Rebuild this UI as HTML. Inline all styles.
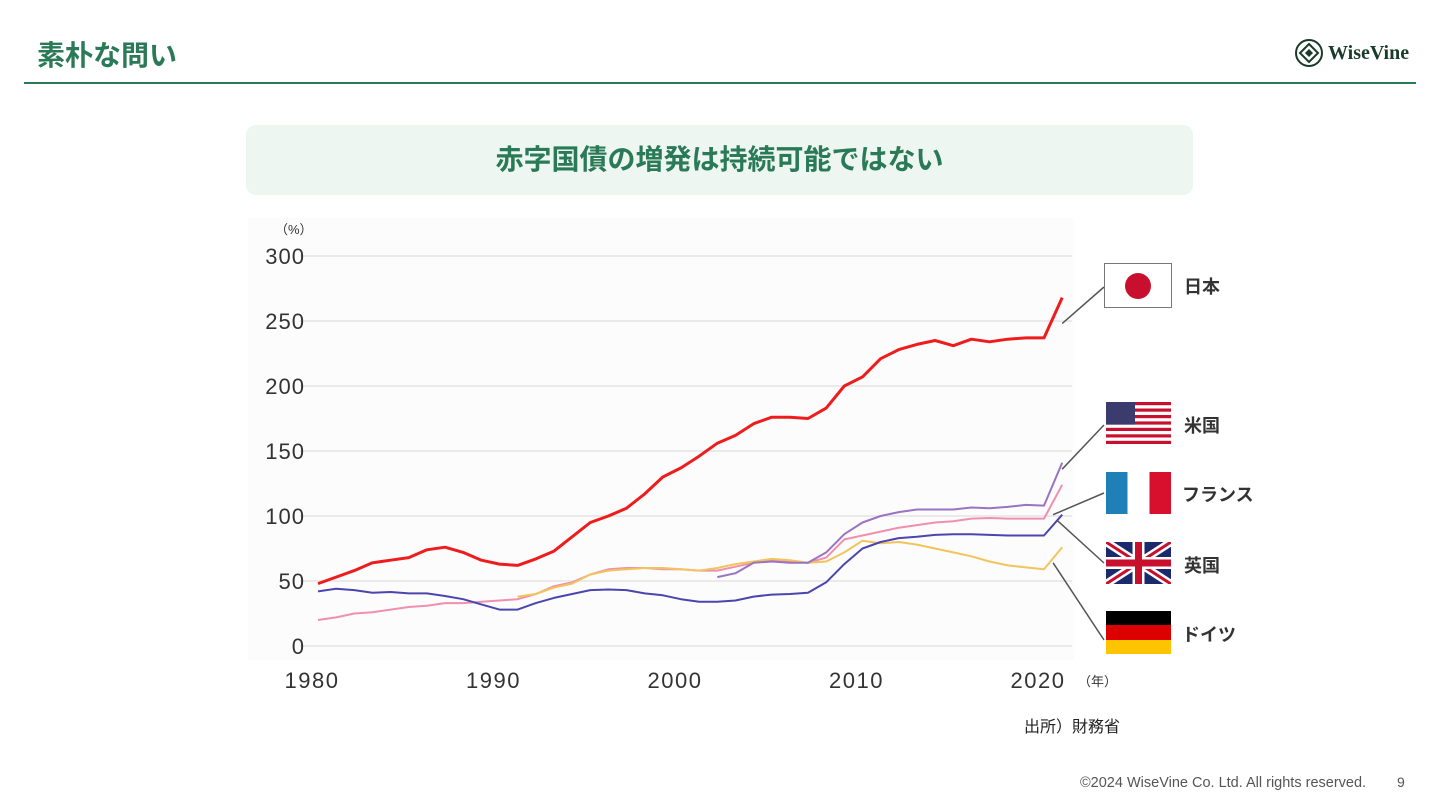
<!DOCTYPE html>
<html><head><meta charset="utf-8">
<style>
body{margin:0;width:1440px;height:810px;background:#fff;font-family:"Liberation Sans","Noto Sans CJK JP",sans-serif;position:relative;overflow:hidden}
.abs{position:absolute}
</style></head><body>
<div class="abs" style="left:37px;top:34px;font-size:28px;font-weight:bold;color:#2b7a57">素朴な問い</div>
<div class="abs" style="left:24px;top:82px;width:1392px;height:2px;background:#2b7a57"></div>
<div class="abs" style="left:1294px;top:38px;display:flex;align-items:center;gap:4px">
 <svg width="30" height="30" viewBox="0 0 30 30"><circle cx="15" cy="15" r="13" fill="none" stroke="#1a3a2c" stroke-width="2"/><path d="M15 6 L24 15 L15 24 L6 15Z" fill="none" stroke="#1a3a2c" stroke-width="2"/><path d="M15 11 L19 15 L15 19 L11 15Z" fill="#1a3a2c"/></svg>
 <span style="font-family:'Liberation Serif',serif;font-weight:bold;font-size:20px;color:#1a3a2c">WiseVine</span>
</div>
<div class="abs" style="left:246px;top:125px;width:947px;height:70px;background:#eef6f1;border-radius:10px;text-align:center;line-height:70px;font-size:28px;font-weight:bold;color:#2b7a57">赤字国債の増発は持続可能ではない</div>
<div class="abs" style="left:248px;top:218px;width:826px;height:442px;background:#fcfcfc"></div>
<svg id="chart" class="abs" style="left:0;top:0" width="1440" height="810"></svg>
<div class="abs" style="left:1024px;top:713px;font-size:16px;color:#222">出所）財務省</div>
<div class="abs" style="left:1080px;top:775px;font-size:14.5px;color:#555">©2024 WiseVine Co. Ltd. All rights reserved.</div>
<div class="abs" style="left:1397px;top:774px;font-size:14px;color:#555">9</div>
<script>
const years=[];for(let y=1980;y<=2021;y++)years.push(y);
const yTicks=[0,50,100,150,200,250,300];
const xTicks=[1980,1990,2000,2010,2020];
const japan=[48,53,58,64,66,68,74,76,72,66,63,62,67,73,84,95,100,106,117,130,137,146,156,162,171,176,176,175,183,200,207,221,228,232,235,231,236,234,236,237,237,268];
const uk=[42,44,43,41,41.5,40.5,40.5,38.5,36,32,28,28,33,37,40,43,43.5,43,40.5,39,36,34,34,35,38,39.5,40,41,49,63,75,80,83,84,85.5,86,86,85.5,85,85,85,101];
const france=[20,22,25,26,28,30,31,33,33,34,35,36,40,46,49,55,59,60,60,59,59,58,58,61,64,66,65,64,68,82,85,88,91,93,95,96,98,98.5,98,98,98,124];
const germany=[null,null,null,null,null,null,null,null,null,null,null,38,40,45,48,55,58,59,60,60,59,58,60,63,65,67,66,64,65,72,81,79,80,78,75,72,69,65,62,60.5,59,76];
const usa=[null,null,null,null,null,null,null,null,null,null,null,null,null,null,null,null,null,null,null,null,null,null,53,56,64,65,64,64,72,86,95,100,103,105,105,105,106.5,106,107,108.5,108,141];
const NS="http://www.w3.org/2000/svg";
const svg=document.getElementById('chart');
const X=y=>318+18.15*(y-1980);
const Y=v=>646-1.3*v;
function mk(t,a){const e=document.createElementNS(NS,t);for(const k in a)e.setAttribute(k,a[k]);svg.appendChild(e);return e;}
yTicks.forEach(v=>{
 const g=mk('line',{x1:300,x2:1072,y1:Y(v),y2:Y(v),stroke:'#e4e4e4','stroke-width':1.5});
 
 
 const t=mk('text',{x:305,y:Y(v)+8,'text-anchor':'end','font-size':22,fill:'#333','font-family':'Liberation Sans,sans-serif','letter-spacing':1});
 t.textContent=v;
 
 
});
xTicks.forEach(v=>{
 const t=mk('text',{x:X(v)-6,y:688,'text-anchor':'middle','font-size':22,fill:'#333','font-family':'Liberation Sans,sans-serif','letter-spacing':1.5});
 t.textContent=v;
 
 
});
let u=mk('text',{x:275,y:234,'font-size':13,fill:'#333'});u.textContent='（%）';


u=mk('text',{x:1078,y:686,'font-size':13,fill:'#333'});u.textContent='（年）';


function line(data,color,w,name){
 let d='';data.forEach((v,i)=>{if(v==null)return;d+=(d?'L':'M')+X(years[i]).toFixed(1)+' '+Y(v).toFixed(1);});
 const p=mk('path',{d:d,fill:'none',stroke:color,'stroke-width':w,'stroke-linejoin':'round'});
 
 
}
line(france,'#f08fb0',2,'line-france');
line(germany,'#f2c45c',2,'line-germany');
line(usa,'#9a73c2',2,'line-usa');
line(uk,'#4b45b0',2,'line-uk');
line(japan,'#ee1c1c',3,'line-japan');
const leaders=[[2021,japan[41]-20,1104,287],[2021,usa[41]-5,1104,425],[2020.5,france[40]+3,1104,493],[2020.7,uk[41]-4,1104,563],[2020.5,germany[41]-12,1104,640]];
leaders.forEach(l=>{
 const e=mk('line',{x1:X(l[0]),y1:Y(l[1]),x2:l[2],y2:l[3],stroke:'#555','stroke-width':1.5});
 
 
});
</script>
<div class="abs" style="left:1104px;top:263px;width:66px;height:43px;border:1.5px solid #777;background:#fff"><div style="position:absolute;left:20px;top:9px;width:26px;height:26px;border-radius:50%;background:#c8102e"></div></div>
<div class="abs" style="left:1184px;top:273px;font-size:18px;font-weight:bold;color:#333">日本</div>
<svg class="abs" style="left:1106px;top:402px" width="65" height="42" viewBox="0 0 65 42"><rect width="65" height="42" fill="#fff"/><g fill="#c8102e"><rect y="0" width="65" height="3.2"/><rect y="6.5" width="65" height="3.2"/><rect y="13" width="65" height="3.2"/><rect y="19.4" width="65" height="3.2"/><rect y="25.8" width="65" height="3.2"/><rect y="32.3" width="65" height="3.2"/><rect y="38.8" width="65" height="3.2"/></g><rect width="29" height="22.6" fill="#3c3b6e"/></svg>
<div class="abs" style="left:1184px;top:412px;font-size:18px;font-weight:bold;color:#333">米国</div>
<div class="abs" style="left:1106px;top:472px;width:65px;height:42px;background:linear-gradient(90deg,#1f80b8 33%,#fff 33%,#fff 67%,#d8102e 67%)"></div>
<div class="abs" style="left:1182px;top:481px;font-size:18px;font-weight:bold;color:#333">フランス</div>
<svg class="abs" style="left:1106px;top:542px" width="65" height="42" viewBox="0 0 65 42"><rect width="65" height="42" fill="#1a2a6c"/><path d="M0 0L65 42M65 0L0 42" stroke="#fff" stroke-width="8"/><path d="M0 0L65 42M65 0L0 42" stroke="#c8102e" stroke-width="3"/><path d="M32.5 0V42M0 21H65" stroke="#fff" stroke-width="12"/><path d="M32.5 0V42M0 21H65" stroke="#c8102e" stroke-width="7"/></svg>
<div class="abs" style="left:1184px;top:552px;font-size:18px;font-weight:bold;color:#333">英国</div>
<div class="abs" style="left:1106px;top:611px;width:65px;height:43px;background:linear-gradient(#000 33%,#d00 33%,#d00 67%,#ffc400 67%)"></div>
<div class="abs" style="left:1182px;top:621px;font-size:18px;font-weight:bold;color:#333">ドイツ</div>
</body></html>
